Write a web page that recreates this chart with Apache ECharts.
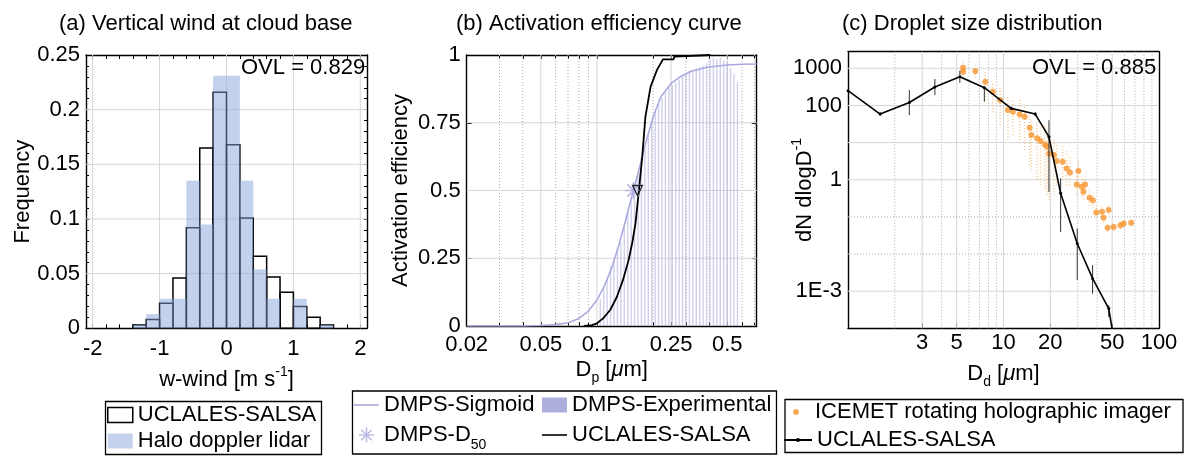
<!DOCTYPE html>
<html><head><meta charset="utf-8">
<script src="https://cdn.jsdelivr.net/npm/echarts@6/dist/echarts.min.js"></script>
<style>html,body{margin:0;padding:0;background:#fff}#chart{width:1200px;height:472px}</style>
</head><body><div id="chart"></div>
<script>
const FONT = '"Liberation Sans", Arial, sans-serif';
const L10 = Math.log10;

// ---------- Panel (a): vertical wind histograms ----------
const windBinEdges = [-1.4,-1.2,-1.0,-0.8,-0.6,-0.4,-0.2,0,0.2,0.4,0.6,0.8,1.0,1.2,1.4,1.6];
const salsaWindFreq = [0.003,0.008,0.023,0.046,0.092,0.165,0.216,0.168,0.101,0.066,0.047,0.033,0.020,0.010,0.003];
const lidarWindFreq = [0.003,0.013,0.027,0.027,0.135,0.095,0.231,0.231,0.135,0.054,0.027,0,0.027,0,0.003];
const windTickLabels = [-2,-1,0,1,2];
const windMinorTicks = [-2,-1.8,-1.6,-1.4,-1.2,-1,-0.8,-0.6,-0.4,-0.2,0,0.2,0.4,0.6,0.8,1,1.2,1.4,1.6,1.8,2];
const freqMinorTicks = [0,0.01,0.02,0.03,0.04,0.05,0.06,0.07,0.08,0.09,0.1,0.11,0.12,0.13,0.14,0.15,0.16,0.17,0.18,0.19,0.2,0.21,0.22,0.23,0.24,0.25];
const aXGrid = [-2,-1,0,1,2];
const aYGrid = [0.05,0.1,0.15,0.2];
const ovlA = 'OVL = 0.829';

// ---------- Panel (b): activation efficiency ----------
const sigmoidD = [0.02,0.03,0.04,0.05,0.06,0.07,0.08,0.09,0.1,0.11,0.12,0.13,0.14,0.15,0.157,0.17,0.18,0.2,0.22,0.25,0.28,0.32,0.39,0.5,0.6,0.72];
const sigmoidE = [0,0,0,0.002,0.005,0.012,0.028,0.055,0.095,0.15,0.215,0.29,0.37,0.45,0.5,0.59,0.66,0.77,0.845,0.895,0.92,0.94,0.955,0.963,0.966,0.967];
const expD = [0.1042,0.1087,0.1134,0.1183,0.1235,0.1288,0.1344,0.1402,0.1463,0.1527,0.1592,0.1661,0.1733,0.1808,0.1887,0.1968,0.2054,0.2142,0.2235,0.2332,0.2432,0.2538,0.2647,0.2762,0.2881,0.3006,0.3136,0.3272,0.3413,0.3561,0.3715,0.3876,0.4044,0.4218,0.4401,0.4592,0.479,0.4997,0.5214,0.5439,0.5675];
const expE = [0.10,0.14,0.17,0.22,0.24,0.29,0.31,0.37,0.42,0.46,0.52,0.57,0.62,0.66,0.71,0.75,0.79,0.82,0.84,0.86,0.88,0.89,0.90,0.91,0.92,0.93,0.94,0.945,0.95,0.955,0.96,0.97,0.985,0.99,0.985,0.99,0.98,0.975,0.95,0.93,0.90];
const salsaActD = [0.085,0.094,0.1,0.108,0.118,0.128,0.138,0.148,0.155,0.161,0.168,0.175,0.182,0.194,0.21,0.226,0.258,0.26,0.406];
const salsaActE = [0,0.003,0.01,0.028,0.06,0.108,0.17,0.244,0.31,0.379,0.5,0.625,0.772,0.883,0.945,0.984,0.984,0.994,1.0];
const dmpsD50 = [0.157, 0.5];
const salsaD50 = [0.165, 0.5];
const bTickVals = [0.02,0.05,0.1,0.25,0.5];
const bTickLabels = ['0.02','0.05','0.1','0.25','0.5'];
const bAllTicks = [0.02,0.03,0.04,0.05,0.06,0.07,0.08,0.09,0.1,0.2,0.25,0.3,0.4,0.5,0.6,0.7];
const bMajorGrid = [0.05,0.1,0.25,0.5];
const bMinorGrid = [0.03,0.04,0.06,0.07,0.08,0.09,0.2,0.3,0.4,0.6,0.7];
const bYGrid = [0.25,0.5,0.75];

// ---------- Panel (c): droplet size distribution ----------
const salsaDd = [1.0,1.61,2.48,3.62,5.24,7.53,11.2,16.0,19.6,23.3,29.8,37.4,47.5,60];
const salsaN  = [250,58.6,120,313,594,300,83.5,58.6,14.3,0.43,0.0192,0.0022,0.00034,0.000001];
const salsaLo = [null,52,55,190,409,126,75,52,0.47,0.039,0.002,0.00086,0.0002,null];
const salsaHi = [null,66,259,514,861,330,93,66,40,1.08,0.049,0.005,0.00042,null];
const icemetD = [5.50,5.50,6.59,7.64,8.53,9.52,10.67,11.49,12.70,13.68,14.74,15.12,16.44,17.29,18.44,19.08,19.66,21.09,21.96,24.01,25.48,26.77,30.30,29.59,31.89,33.50,32.66,35.72,37.57,39.48,42.98,47.42,44.02,46.72,51.09,56.48,59.33,66.24];
const icemetN = [1038,809,846,435,234,140,75.2,67.6,57.5,49.6,25.0,15.9,13.0,11.0,8.93,7.70,5.11,4.60,3.17,3.04,2.02,1.57,1.71,0.747,0.644,0.747,0.472,0.325,0.282,0.1315,0.1365,0.152,0.094,0.0506,0.0537,0.0597,0.0664,0.0698];
const icemetLo = [548,550,548,140,66,29.6,11.7,15.9,11.7,6.3,2.48,1.82,0.98,0.71,0.52,0.385,0.28,0.385,0.71,0.98,0.71,0.71,0.98,0.385,0.385,0.45,0.3,0.2,0.17,0.09,0.1,0.11,0.07,0.04,0.042,0.047,0.052,0.055];
const icemetHi = [1675,1200,1227,794,428,294,190,140,140,103,55,40,40,29.6,29.6,21.7,15.9,11.7,8.5,8.5,6.3,4.6,3.4,1.33,1.2,1.2,0.8,0.55,0.45,0.2,0.2,0.22,0.14,0.07,0.07,0.08,0.085,0.09];
const cXTickVals = [3,5,10,20,50,100];
const cXTickLabels = ['3','5','10','20','50','100'];
const cYTickVals = [1000,100,1,0.001];
const cYTickLabels = ['1000','100','1','1E-3'];
const cXMajorGrid = [3,5,10,20,50];
const cXMinorGrid = [2,4,6,7,8,9,30,40,60,70,80,90];
const cYMajorGrid = [1000,100,10,1,0.001];
const cYMinorGrid = [0.1,0.01];
const cXRange = [1, 100];
const cYRange = [0.0001, 2800];
const ovlC = 'OVL = 0.885';

// ---------- helpers ----------
const LBL = {show:true, color:'#000', fontSize:22, fontFamily:FONT};
const AXLINE = {show:true, onZero:false, lineStyle:{color:'#000', width:1.4}};
const RICH = {
  sub:{fontSize:14, fontFamily:FONT, lineHeight:14, verticalAlign:'bottom', color:'#000'},
  sup:{fontSize:14, fontFamily:FONT, lineHeight:14, verticalAlign:'top', color:'#000'},
  it:{fontSize:22, fontFamily:FONT, fontStyle:'italic', lineHeight:30, color:'#000'}
};
const NAME_STYLE = {fontSize:22, fontFamily:FONT, color:'#000', lineHeight:30, rich:RICH};
function lookup(vals, labels){
  return function(v){ let bi=0, bd=Infinity; vals.forEach((t,i)=>{const d=Math.abs(t-v); if(d<bd){bd=d;bi=i;}}); return labels[bi]; };
}
function axis(gi, pos, min, max, extra){
  return Object.assign({type:'value', gridIndex:gi, position:pos, min:min, max:max,
    axisLine:AXLINE, splitLine:{show:false}, minorTick:{show:false}, minorSplitLine:{show:false},
    axisTick:{show:false}, axisLabel:{show:false}, nameMoveOverlap:false}, extra||{});
}
function ticks(vals, len){ return {show:true, inside:true, length:len, customValues:vals, lineStyle:{color:'#000', width:1}}; }
const SOLID = {stroke:'#d6d6d6', lineWidth:1};
const DOT = {stroke:'#ababab', lineWidth:1, lineDash:[1,2]};
function gridLines(gi, vals, dir, style){
  return {type:'custom', xAxisIndex:gi*2, yAxisIndex:gi*2, silent:true, z:1,
    data: vals.map(v=>[v,0]),
    renderItem(params, api){
      const cs = params.coordSys; const v = api.value(0);
      let shape;
      if (dir==='v'){ const x = api.coord([v, 0])[0]; shape={x1:x,y1:cs.y,x2:x,y2:cs.y+cs.height}; }
      else { const y = api.coord([0, v])[1]; shape={x1:cs.x,y1:y,x2:cs.x+cs.width,y2:y}; }
      return {type:'line', shape, style};
    }};
}
function errBars(gi, rows, style, z){
  return {type:'custom', xAxisIndex:gi*2, yAxisIndex:gi*2, silent:true, z:z, clip:true,
    data: rows,
    renderItem(params, api){
      const p1 = api.coord([api.value(0), api.value(1)]);
      const p2 = api.coord([api.value(0), api.value(2)]);
      return {type:'line', shape:{x1:p1[0],y1:p1[1],x2:p2[0],y2:p2[1]}, style};
    }};
}
function hist(name, freq, style, z){
  return {type:'custom', name, xAxisIndex:0, yAxisIndex:0, z:z,
    data: freq.map((h,i)=>[windBinEdges[i], windBinEdges[i+1], h]),
    renderItem(params, api){
      if (!api.value(2)) return null;
      const p0 = api.coord([api.value(0), api.value(2)]);
      const p1 = api.coord([api.value(1), 0]);
      return {type:'rect', shape:{x:p0[0], y:p0[1], width:p1[0]-p0[0], height:p1[1]-p0[1]}, style};
    }};
}
const ASTERISK = 'path://M9,0h2v20h-2z M0,9h20v2h-20z M2.2,3.6l1.4,-1.4l14.2,14.2l-1.4,1.4z M16.4,2.2l1.4,1.4l-14.2,14.2l-1.4,-1.4z';
const LINE_ICON = 'path://M0,0h25v1.6h-25z';
const DISPLAY = {SALSA_A:'UCLALES-SALSA', SALSA_B:'UCLALES-SALSA', SALSA_C:'UCLALES-SALSA', D50:'DMPS-D{sub|50}'};
const legendFmt = n => DISPLAY[n] || n;
function legendText(lh){ return {fontSize:22, fontFamily:FONT, color:'#000', lineHeight:lh, rich:{sub:{fontSize:14, fontFamily:FONT, lineHeight:14, verticalAlign:'bottom', color:'#000'}}}; }

const PURPLE = '#aaaade';
const ORANGE = '#f6962f';

const option = {
  animation:false,
  backgroundColor:'#fff',
  textStyle:{fontFamily:FONT},
  title:[
    {text:'(a) Vertical wind at cloud base', left:59, top:13},
    {text:'(b) Activation efficiency curve', left:456, top:13},
    {text:'(c) Droplet size distribution', left:842, top:13},
    {text:ovlA, left:241, top:57},
    {text:ovlC, left:1032, top:57}
  ].map(t=>Object.assign(t,{padding:0, textStyle:{fontSize:22, fontWeight:'normal', color:'#000', fontFamily:FONT}})),
  grid:[
    {left:86, top:55, width:281, height:273.3, outerBoundsMode:'none', containLabel:false},
    {left:466.7, top:55, width:290, height:271, outerBoundsMode:'none', containLabel:false},
    {left:848, top:51.7, width:311, height:276.6, outerBoundsMode:'none', containLabel:false}
  ],
  xAxis:[
    axis(0,'bottom',-2.1,2.1,{axisLabel:Object.assign({},LBL,{margin:10, customValues:windTickLabels}), axisTick:ticks(windMinorTicks,4),
      name:'w-wind [m s{sup|-1}]', nameLocation:'middle', nameGap:37, nameTextStyle:NAME_STYLE}),
    axis(0,'top',-2.1,2.1,{axisTick:ticks(windMinorTicks,4)}),
    axis(1,'bottom',L10(0.02),L10(0.72),{axisLabel:Object.assign({},LBL,{margin:8, customValues:bTickVals.map(L10), formatter:lookup(bTickVals.map(L10), bTickLabels)}),
      axisTick:ticks(bAllTicks.map(L10),4), name:'D{sub|p} [{it|μ}m]', nameLocation:'middle', nameGap:29, nameTextStyle:NAME_STYLE}),
    axis(1,'top',L10(0.02),L10(0.72),{axisTick:ticks(bAllTicks.map(L10),4)}),
    axis(2,'bottom',L10(cXRange[0]),L10(cXRange[1]),{axisLabel:Object.assign({},LBL,{margin:4, customValues:cXTickVals.map(L10), formatter:lookup(cXTickVals.map(L10), cXTickLabels)}),
      axisTick:ticks(cXTickVals.map(L10),5), name:'D{sub|d} [{it|μ}m]', nameLocation:'middle', nameGap:31, nameTextStyle:NAME_STYLE}),
    axis(2,'top',L10(cXRange[0]),L10(cXRange[1]))
  ],
  yAxis:[
    axis(0,'left',0,0.25,{interval:0.05, axisLabel:Object.assign({},LBL,{margin:6}), axisTick:ticks(freqMinorTicks,3),
      name:'Frequency', nameLocation:'middle', nameGap:52, nameTextStyle:{fontSize:22, fontFamily:FONT, color:'#000', lineHeight:22}}),
    axis(0,'right',0,0.25,{axisTick:ticks(freqMinorTicks,3)}),
    axis(1,'left',0,1,{interval:0.25, axisLabel:Object.assign({},LBL,{margin:6}), axisTick:ticks([0,0.25,0.5,0.75,1],5),
      name:'Activation efficiency', nameLocation:'middle', nameGap:55, nameTextStyle:{fontSize:22, fontFamily:FONT, color:'#000', lineHeight:22}}),
    axis(1,'right',0,1,{axisTick:ticks([0,0.25,0.5,0.75,1],5)}),
    axis(2,'left',L10(cYRange[0]),L10(cYRange[1]),{axisLabel:Object.assign({},LBL,{margin:6, customValues:cYTickVals.map(L10), formatter:lookup(cYTickVals.map(L10), cYTickLabels)}),
      name:'dN dlogD{sup|-1}', nameLocation:'middle', nameGap:28, nameTextStyle:NAME_STYLE}),
    axis(2,'right',L10(cYRange[0]),L10(cYRange[1]))
  ],
  legend:[
    {left:107, top:403, orient:'vertical', padding:0, itemWidth:25, itemHeight:15, itemGap:2, selectedMode:false,
      textStyle:legendText(24), formatter:legendFmt,
      data:[{name:'SALSA_A', icon:'rect', itemStyle:{color:'#fff', borderColor:'#000', borderWidth:1.5}},
            {name:'Halo doppler lidar', icon:'rect', itemStyle:{color:'#c3d1ec'}}]},
    {left:354, top:388, orient:'vertical', padding:0, itemWidth:25, itemHeight:15, itemGap:-4, selectedMode:false,
      textStyle:legendText(34), formatter:legendFmt,
      data:[{name:'DMPS-Sigmoid', icon:LINE_ICON, itemStyle:{color:PURPLE}}, 'D50']},
    {left:542, top:388, orient:'vertical', padding:0, itemWidth:25, itemHeight:15, itemGap:-4, selectedMode:false,
      textStyle:legendText(34), formatter:legendFmt,
      data:[{name:'DMPS-Experimental', icon:'rect', itemStyle:{color:'#aeaedc'}}, {name:'SALSA_B', icon:LINE_ICON, itemStyle:{color:'#000'}}]},
    {left:793, top:400, orient:'vertical', padding:0, itemWidth:28, itemHeight:6, selectedMode:false,
      textStyle:legendText(24), formatter:legendFmt,
      data:[{name:'ICEMET rotating holographic imager', icon:'circle'}]},
    {left:783, top:428, orient:'vertical', padding:0, itemWidth:28, itemHeight:5, selectedMode:false,
      textStyle:legendText(24), formatter:legendFmt, data:['SALSA_C']}
  ],
  graphic:[
    {type:'rect', shape:{x:105.5, y:401.5, width:216, height:53}, style:{fill:'none', stroke:'#000', lineWidth:1.3}, z:100},
    {type:'rect', shape:{x:352.5, y:391, width:424, height:63}, style:{fill:'none', stroke:'#000', lineWidth:1.3}, z:100},
    {type:'rect', shape:{x:785, y:399.5, width:398, height:53}, style:{fill:'none', stroke:'#000', lineWidth:1.3}, z:100}
  ],
  series:[
    // panel a
    gridLines(0, aXGrid, 'v', SOLID),
    gridLines(0, aYGrid, 'h', SOLID),
    hist('SALSA_A', salsaWindFreq, {fill:'none', stroke:'#000', lineWidth:1.5}, 2),
    hist('Halo doppler lidar', lidarWindFreq, {fill:'rgba(135,163,217,0.5)'}, 3),
    // panel b
    gridLines(1, bMajorGrid.map(L10), 'v', SOLID),
    gridLines(1, bMinorGrid.map(L10), 'v', DOT),
    gridLines(1, bYGrid, 'h', SOLID),
    {type:'custom', name:'DMPS-Experimental', xAxisIndex:2, yAxisIndex:2, z:2,
      data: expD.map((d,i)=>[L10(d), expE[i]]),
      renderItem(params, api){
        const p0 = api.coord([api.value(0), api.value(1)]);
        const p1 = api.coord([api.value(0), 0]);
        return {type:'rect', shape:{x:p0[0]-0.7, y:p0[1], width:1.4, height:p1[1]-p0[1]}, style:{fill:'rgba(170,170,222,0.55)'}};
      }},
    {type:'line', name:'DMPS-Sigmoid', xAxisIndex:2, yAxisIndex:2, z:3, symbol:'none',
      lineStyle:{color:PURPLE, width:1.6}, itemStyle:{color:PURPLE},
      data: sigmoidD.map((d,i)=>[L10(d), sigmoidE[i]])},
    {type:'line', name:'SALSA_B', xAxisIndex:2, yAxisIndex:2, z:4, symbol:'none',
      lineStyle:{color:'#000', width:1.8}, itemStyle:{color:'#000'},
      data: salsaActD.map((d,i)=>[L10(d), salsaActE[i]])},
    {type:'scatter', name:'D50', xAxisIndex:2, yAxisIndex:2, z:5, symbol:ASTERISK, symbolSize:17,
      itemStyle:{color:PURPLE}, data:[[L10(dmpsD50[0]), dmpsD50[1]]]},
    {type:'scatter', name:'SALSA_B_D50', xAxisIndex:2, yAxisIndex:2, z:6, symbol:'triangle', symbolRotate:180, symbolSize:10,
      itemStyle:{color:'rgba(255,255,255,0)', borderColor:'#000', borderWidth:1.3}, data:[[L10(salsaD50[0]), salsaD50[1]]]},
    // panel c
    gridLines(2, cXMajorGrid.map(L10), 'v', SOLID),
    gridLines(2, cXMinorGrid.map(L10), 'v', DOT),
    gridLines(2, cYMajorGrid.map(L10), 'h', SOLID),
    gridLines(2, cYMinorGrid.map(L10), 'h', DOT),
    errBars(2, icemetD.map((d,i)=>[L10(d), L10(icemetLo[i]), L10(icemetHi[i])]), {stroke:'rgba(246,150,47,0.5)', lineWidth:1.5, lineDash:[1,2]}, 2),
    {type:'scatter', name:'ICEMET rotating holographic imager', xAxisIndex:4, yAxisIndex:4, z:3, symbol:'circle', symbolSize:6,
      itemStyle:{color:ORANGE}, data: icemetD.map((d,i)=>[L10(d), L10(icemetN[i])])},
    errBars(2, salsaDd.map((d,i)=>[L10(d), salsaLo[i]==null?null:L10(salsaLo[i]), salsaHi[i]==null?null:L10(salsaHi[i])]).filter(r=>r[1]!==null), {stroke:'#333', lineWidth:1}, 4),
    {type:'line', name:'SALSA_C', xAxisIndex:4, yAxisIndex:4, z:5, symbol:'circle', symbolSize:3, showSymbol:true,
      lineStyle:{color:'#000', width:1.6}, itemStyle:{color:'#000'},
      data: salsaDd.map((d,i)=>[L10(d), L10(salsaN[i])])}
  ]
};
const chart = echarts.init(document.getElementById('chart'), null, {renderer:'canvas'});
chart.setOption(option);
</script></body></html>
